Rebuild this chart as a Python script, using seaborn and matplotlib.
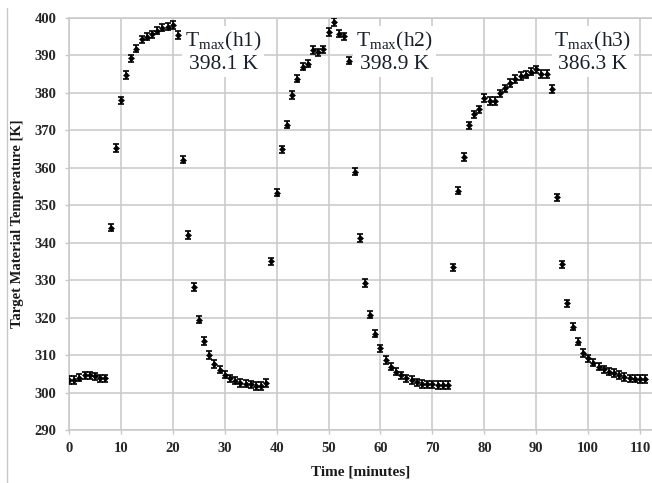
import numpy as np
import pandas as pd
import seaborn as sns
import matplotlib.pyplot as plt
from matplotlib.lines import Line2D

#time axis, one reading per minute
time_min = list(range(112))

#target temperature readings [K]
temp_k = [
    303.3, 303.3, 304.0, 304.6, 304.6, 304.3, 303.8, 303.8, 344.0, 365.3,
    378.0, 384.8, 389.2, 391.8, 394.3, 395.0, 395.6, 396.6, 397.4, 397.7,
    398.1, 395.4, 362.2, 342.0, 328.2, 319.5, 313.8, 310.0, 307.6, 306.1,
    304.8, 303.8, 303.2, 302.6, 302.4, 302.2, 301.7, 301.7, 302.5, 335.0,
    353.4, 364.9, 371.5, 379.5, 383.8, 387.0, 387.8, 391.5, 390.8, 391.6,
    396.2, 398.9, 395.8, 395.1, 388.6, 359.0, 341.3, 329.3, 320.8, 315.7,
    311.8, 308.7, 306.9, 305.6, 304.6, 303.8, 303.3, 302.7, 302.3, 302.2,
    302.2, 302.0, 302.0, 302.0, 333.4, 353.9, 362.9, 371.3, 374.3, 375.6,
    378.6, 377.8, 377.8, 379.9, 381.2, 382.6, 383.7, 384.5, 384.9, 385.7,
    386.3, 385.1, 385.1, 381.1, 352.1, 334.2, 323.8, 317.6, 313.6, 310.6,
    309.1, 308.0, 306.9, 306.2, 305.6, 305.2, 304.7, 304.1, 303.8, 303.7,
    303.6, 303.6,
]

#measurement uncertainty [K]
TEMP_ERR = 1.0

#peak annotations
peak_names = ['h1', 'h2', 'h3']
peak_values = [398.1, 398.9, 386.3]

#where the peak labels sit (data coords)
PEAK_LABEL_X = [29.7, 62.7, 100.9]
PEAK_LABEL_Y = 390.9

GRID_COLOR = '#c8c8c8'


if __name__ == '__main__':
    sns.set_theme(style='whitegrid')
    plt.rcParams['font.family'] = ['Liberation Serif', 'DejaVu Serif']
    plt.rcParams['mathtext.fontset'] = 'custom'
    plt.rcParams['mathtext.rm'] = 'Liberation Serif'

    df = pd.DataFrame({'time': time_min, 'temp': temp_k})

    fig = plt.figure(figsize=(6.52, 4.83), dpi=100)
    ax = fig.add_axes([69 / 652, 53 / 483, 583 / 652, 412 / 483])

    #error bars first, then the points on top
    ax.errorbar(df['time'], df['temp'], yerr=TEMP_ERR, fmt='none',
                ecolor='black', elinewidth=1.2, capsize=2, capthick=1.2, zorder=3)
    sns.scatterplot(data=df, x='time', y='temp', marker='D', s=10,
                    color='black', edgecolor='black', linewidth=0.3, ax=ax, zorder=4)

    ax.set_xlim(0, 112.3)
    ax.set_ylim(290, 400)
    ax.set_xticks(np.arange(0, 111, 10))
    ax.set_yticks(np.arange(290, 401, 10))
    ax.grid(True, color=GRID_COLOR, linewidth=1.1)
    ax.set_facecolor('white')
    for side in ['left', 'bottom', 'top']:
        ax.spines[side].set_color(GRID_COLOR)
        ax.spines[side].set_linewidth(1.1)
    ax.spines['right'].set_visible(False)

    ax.tick_params(axis='both', which='major', direction='out', length=3,
                   width=1.0, color=GRID_COLOR, labelsize=10.5, labelcolor='#262626')
    ax.tick_params(axis='y', pad=6, left=True)
    ax.tick_params(axis='x', pad=5.5, bottom=True)
    for lab in ax.get_xticklabels() + ax.get_yticklabels():
        lab.set_fontweight('bold')

    ax.set_xlabel('Time [minutes]', fontsize=11, fontweight='bold',
                  color='#1a1a1a', labelpad=8)
    ax.set_ylabel('Target Material Temperature [K]', fontsize=10.5,
                  fontweight='bold', color='#1a1a1a', labelpad=8)

    #peak temperature labels with white boxes over the grid
    for name, val, px in zip(peak_names, peak_values, PEAK_LABEL_X):
        ax.text(px, PEAK_LABEL_Y, f'T$_\\mathregular{{max}}$({name})\n{val:.1f} K',
                ha='center', va='center', multialignment='center',
                fontsize=15.5, color='#18202e', linespacing=1.1, zorder=5,
                bbox=dict(facecolor='white', edgecolor='none', pad=2))

    #outer chart frame line on the left
    fig.add_artist(Line2D([7 / 652, 7 / 652], [0, 475 / 483],
                          color=GRID_COLOR, linewidth=1.0))

    plt.savefig('out.png', dpi=100)
